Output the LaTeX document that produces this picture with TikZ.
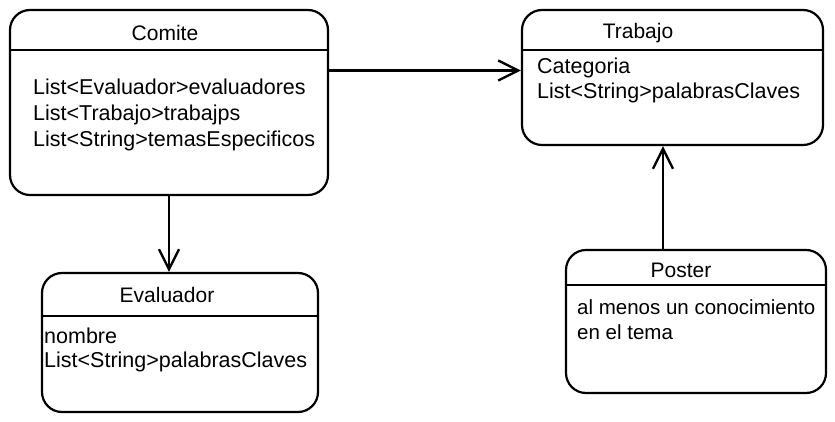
\documentclass[tikz,border=0pt]{standalone}
\usepackage{fontspec}
\setmainfont{Liberation Sans}
\usetikzlibrary{arrows.meta}

\tikzset{
  classbox/.style={draw, line width=2.2pt, rounded corners=20pt, inner sep=0pt},
  divider/.style={line width=2.6pt},
  txt/.style={anchor=base west, inner sep=0pt, font=\fontsize{21.5}{25}\selectfont},
  title/.style={anchor=base, inner sep=0pt, font=\fontsize{21}{25}\selectfont},
  arr/.style={line width=2.4pt, -{Straight Barb[length=20pt, width=20pt, line width=2.4pt]}}
}

\begin{document}
\begin{tikzpicture}[x=1pt, y=-1pt]

  \useasboundingbox (0,0) rectangle (835,422);

  % cajas de las clases
  \node[classbox, minimum width=318pt, minimum height=185pt] (comite)    at (169,102.5) {};
  \node[classbox, minimum width=301pt, minimum height=135pt] (trabajo)   at (672.5,77.5) {};
  \node[classbox, minimum width=276pt, minimum height=139pt] (evaluador) at (180,342.5) {};
  \node[classbox, minimum width=260pt, minimum height=143pt] (poster)    at (696,321.5) {};

  % separadores de cabecera
  \draw[divider] (comite.west |- 0,50)    -- (comite.east |- 0,50);
  \draw[divider] (trabajo.west |- 0,50)   -- (trabajo.east |- 0,50);
  \draw[divider] (evaluador.west |- 0,316) -- (evaluador.east |- 0,316);
  \draw[divider] (poster.west |- 0,285)   -- (poster.east |- 0,285);

  % nombres de las clases
  \node[title] (comiteT)    at (165,41)  {Comite};
  \node[title] (trabajoT)   at (638,39)  {Trabajo};
  \node[title] (evaluadorT) at (167,302) {Evaluador};
  \node[title] (posterT)    at (681,277) {Poster};

  % atributos
  \node[txt] (c1) at (33,95)  {List<Evaluador>evaluadores};
  \node[txt] (c2) at (33,121) {List<Trabajo>trabajps};
  \node[txt] (c3) at (33,147) {List<String>temasEspecificos};

  \node[txt] (t1) at (537,74) {Categoria};
  \node[txt] (t2) at (537,99) {List<String>palabrasClaves};

  \node[txt] (e1) at (44,343) {nombre};
  \node[txt] (e2) at (44,367) {List<String>palabrasClaves};

  \node[txt, font=\fontsize{20.5}{25}\selectfont] (p1) at (577,314) {al menos un conocimiento};
  \node[txt, font=\fontsize{20.5}{25}\selectfont] (p2) at (577,339) {en el tema};

  % asociaciones
  \coordinate (cT) at ([yshift=32pt]comite.east);
  \draw[arr] (cT) -- (cT -| trabajo.west);

  \coordinate (cE) at (comite.south);
  \draw[arr] (cE) -- (cE |- evaluador.north);

  \coordinate (pT) at ([xshift=-33pt]poster.north);
  \draw[arr] (pT) -- (pT |- trabajo.south);

\end{tikzpicture}
\end{document}
